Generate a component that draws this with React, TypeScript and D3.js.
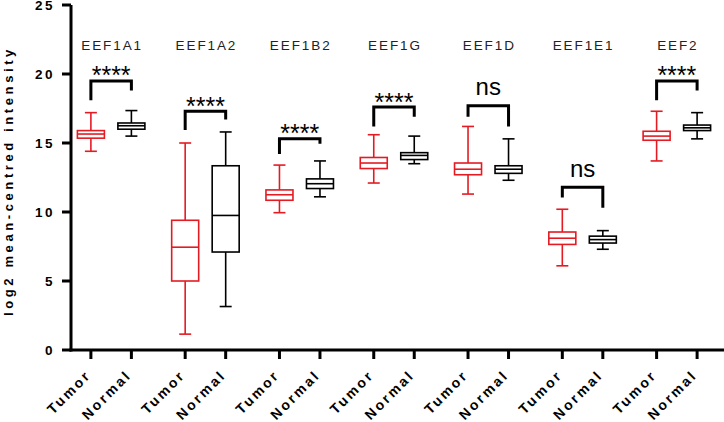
import React from "react";
import * as d3 from "d3";

const genes = ["EEF1A1", "EEF1A2", "EEF1B2", "EEF1G", "EEF1D", "EEF1E1", "EEF2"];
const groups = ["Tumor", "Normal"];

const tumorMin = [14.4, 1.15, 9.95, 12.1, 11.3, 6.1, 13.7];
const tumorQ1 = [15.35, 5.0, 10.85, 13.15, 12.7, 7.65, 15.2];
const tumorMed = [15.65, 7.45, 11.25, 13.55, 13.1, 8.1, 15.5];
const tumorQ3 = [15.9, 9.4, 11.6, 13.95, 13.55, 8.55, 15.85];
const tumorMax = [17.2, 15.0, 13.4, 15.6, 16.2, 10.2, 17.3];

const normalMin = [15.5, 3.15, 11.1, 13.5, 12.3, 7.3, 15.3];
const normalQ1 = [16.0, 7.1, 11.7, 13.8, 12.8, 7.75, 15.9];
const normalMed = [16.25, 9.75, 12.05, 14.1, 13.1, 8.0, 16.1];
const normalQ3 = [16.45, 13.35, 12.4, 14.3, 13.35, 8.25, 16.3];
const normalMax = [17.35, 15.8, 13.7, 15.5, 15.3, 8.65, 17.2];

const sigLabels = ["****", "****", "****", "****", "ns", "ns", "****"];
const bracketTop = [19.5, 17.3, 15.3, 17.6, 17.7, 11.8, 19.5];
const bracketLeft = [18.1, 15.95, 14.2, 16.2, 16.9, 11.05, 18.1];
const bracketRight = [18.8, 16.7, 14.95, 16.9, 16.2, 10.3, 18.8];

const yTicks = [0, 5, 10, 15, 20, 25];
const yTitle = "log2 mean-centred intensity";

const W = 724;
const H = 422;
const FONT = "'Liberation Sans', Arial, Helvetica, sans-serif";
const RED = "#e41b23";
const BLACK = "#000";

export default function App() {
  const y = d3.scaleLinear().domain([0, 25]).range([350, 5]);
  const x0 = d3.scaleBand().domain(genes).range([64, 724]);
  const x1 = d3.scalePoint().domain(groups).range([-20.25, 20.25]);
  const cx = (g: string) => (x0(g) as number) + x0.bandwidth() / 2;
  const axisX = 71;
  const axisY = y(0);
  const boxW = 27;
  const capW = 12;

  const stats = (gi: number, grp: string) =>
    grp === "Tumor"
      ? { min: tumorMin[gi], q1: tumorQ1[gi], med: tumorMed[gi], q3: tumorQ3[gi], max: tumorMax[gi] }
      : { min: normalMin[gi], q1: normalQ1[gi], med: normalMed[gi], q3: normalQ3[gi], max: normalMax[gi] };

  return (
    <svg
      width={W}
      height={H}
      style={{ position: "absolute", left: 0, top: 0, background: "#fff" }}
      fontFamily={FONT}
    >
      {/* boxes */}
      {genes.map((g, gi) =>
        groups.map((grp) => {
          const s = stats(gi, grp);
          const xc = cx(g) + (x1(grp) as number);
          const col = grp === "Tumor" ? RED : BLACK;
          return (
            <g key={g + grp} stroke={col} strokeWidth={1.6} fill="none">
              <line x1={xc} x2={xc} y1={y(s.max)} y2={y(s.q3)} />
              <line x1={xc} x2={xc} y1={y(s.q1)} y2={y(s.min)} />
              <line x1={xc - capW / 2} x2={xc + capW / 2} y1={y(s.max)} y2={y(s.max)} />
              <line x1={xc - capW / 2} x2={xc + capW / 2} y1={y(s.min)} y2={y(s.min)} />
              <rect x={xc - boxW / 2} y={y(s.q3)} width={boxW} height={y(s.q1) - y(s.q3)} fill="#fff" />
              <line x1={xc - boxW / 2} x2={xc + boxW / 2} y1={y(s.med)} y2={y(s.med)} />
            </g>
          );
        })
      )}

      {/* brackets */}
      {genes.map((g, gi) => {
        const xl = cx(g) + (x1("Tumor") as number);
        const xr = cx(g) + (x1("Normal") as number);
        const yt = y(bracketTop[gi]);
        const isNs = sigLabels[gi] === "ns";
        return (
          <g key={"br" + g}>
            <path
              d={`M${xl},${y(bracketLeft[gi])}V${yt}H${xr}V${y(bracketRight[gi])}`}
              fill="none"
              stroke={BLACK}
              strokeWidth={3}
            />
            <text
              x={cx(g)}
              y={isNs ? yt - 10.5 : yt + 3.5}
              textAnchor="middle"
              fontSize={isNs ? 24 : 25}
              fill="#000"
            >
              {sigLabels[gi]}
            </text>
          </g>
        );
      })}

      {/* gene labels */}
      {genes.map((g) => (
        <text
          key={"lab" + g}
          x={cx(g) + 1}
          y={49.5}
          textAnchor="middle"
          fontSize={13.5}
          letterSpacing={1.9}
          fill="#222"
        >
          {g}
        </text>
      ))}

      {/* y axis */}
      <line x1={axisX} x2={axisX} y1={y(25)} y2={axisY + 1.5} stroke="#000" strokeWidth={3} />
      {yTicks.map((t) => (
        <g key={"yt" + t}>
          <line x1={axisX - 9} x2={axisX} y1={y(t)} y2={y(t)} stroke="#000" strokeWidth={3} />
          <text
            x={55}
            y={y(t)}
            dy="0.4em"
            textAnchor="end"
            fontSize={13.5}
            fontWeight="bold"
            letterSpacing={2.5}
            fill="#000"
          >
            {t}
          </text>
        </g>
      ))}
      <text
        transform={`translate(13,181) rotate(-90)`}
        textAnchor="middle"
        fontSize={13}
        fontWeight="bold"
        letterSpacing={3.6}
        fill="#000"
      >
        {yTitle}
      </text>

      {/* x axis */}
      <line x1={axisX - 1.5} x2={W} y1={axisY} y2={axisY} stroke="#000" strokeWidth={3} />
      {genes.map((g) =>
        groups.map((grp) => {
          const xc = cx(g) + (x1(grp) as number);
          return (
            <g key={"xt" + g + grp}>
              <line x1={xc} x2={xc} y1={axisY} y2={axisY + 9} stroke="#000" strokeWidth={3} />
              <text
                transform={`translate(${xc + 1},${axisY + 26}) rotate(-45)`}
                textAnchor="end"
                fontSize={14}
                fontWeight="bold"
                letterSpacing={2.5}
                fill="#000"
              >
                {grp}
              </text>
            </g>
          );
        })
      )}
    </svg>
  );
}
